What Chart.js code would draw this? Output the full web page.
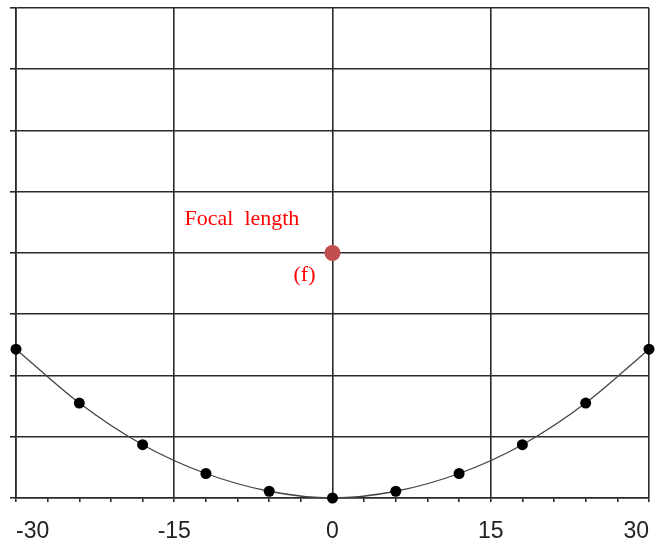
<!DOCTYPE html>
<html>
<head>
<meta charset="utf-8">
<script src="https://cdn.jsdelivr.net/npm/chart.js@4.4.1/dist/chart.umd.min.js"></script>
<style>
html,body{margin:0;padding:0;background:#fff;}
#wrap{width:665px;height:547px;}
</style>
</head>
<body>
<div id="wrap"><canvas id="c" width="665" height="547"></canvas></div>
<script>
const xValues = [-30, -24, -18, -12, -6, 0, 6, 12, 18, 24, 30];
const yValues = [2.43, 1.55, 0.87, 0.40, 0.11, 0, 0.11, 0.40, 0.87, 1.55, 2.43];
const focusPoint = {x: 0, y: 4};
const focusLabel = 'Focal  length';
const focusSymbol = '(f)';
const xTickLabels = [-30, -15, 0, 15, 30];

const GRID = '#2b2b2b';

const textPlugin = {
  id: 'focusText',
  afterDatasetsDraw(chart) {
    const ctx = chart.ctx;
    const px = chart.scales.x.getPixelForValue(focusPoint.x);
    const py = chart.scales.y.getPixelForValue(focusPoint.y);
    ctx.save();
    ctx.fillStyle = '#ff0000';
    ctx.font = '22px "Liberation Serif", "Times New Roman", serif';
    ctx.textBaseline = 'alphabetic';
    ctx.textAlign = 'left';
    ctx.fillText(focusLabel, px - 148, py - 28);
    ctx.fillText(focusSymbol, px - 39, py + 28);
    ctx.restore();
  }
};

new Chart(document.getElementById('c'), {
  type: 'scatter',
  data: {
    datasets: [
      {
        data: xValues.map((x, i) => ({x: x, y: yValues[i]})),
        showLine: true,
        borderColor: '#444444',
        borderWidth: 1.3,
        cubicInterpolationMode: 'monotone',
        pointBackgroundColor: '#000',
        pointBorderColor: '#000',
        pointRadius: 5.5,
        pointBorderWidth: 0,
        clip: false
      },
      {
        data: [focusPoint],
        pointBackgroundColor: '#c0504d',
        pointBorderColor: '#c0504d',
        pointRadius: 8,
        pointBorderWidth: 0,
        clip: false
      }
    ]
  },
  options: {
    responsive: false,
    animation: false,
    devicePixelRatio: 1,
    layout: {padding: {left: 0, right: 13, top: 8, bottom: 0}},
    plugins: {legend: {display: false}, tooltip: {enabled: false}},
    scales: {
      x: {
        type: 'linear',
        min: -30, max: 30,
        afterFit(s) { s.height = 49; },
        afterBuildTicks(s) {
          const t = [];
          for (let v = -30; v <= 30.001; v += 3) t.push({value: v});
          s.ticks = t;
        },
        grid: {
          color: c => (Math.abs(c.tick.value % 15) < 1e-6 ? GRID : 'rgba(0,0,0,0)'),
          tickColor: GRID,
          lineWidth: 1.6,
          tickLength: 4,
          drawTicks: true
        },
        border: {display: true, color: GRID, width: 1.6},
        ticks: {
          autoSkip: false,
          maxRotation: 0,
          align: 'inner',
          padding: 16,
          color: '#222',
          font: {family: '"Liberation Sans", Arial, sans-serif', size: 23},
          callback: v => (xTickLabels.includes(v) ? String(v) : '')
        }
      },
      y: {
        type: 'linear',
        min: 0, max: 8,
        afterFit(s) { s.width = 15; },
        ticks: {display: false, stepSize: 1},
        grid: {color: GRID, lineWidth: 1.6, tickLength: 6, drawTicks: true},
        border: {display: true, color: GRID, width: 1.6}
      }
    }
  },
  plugins: [textPlugin]
});
</script>
</body>
</html>
